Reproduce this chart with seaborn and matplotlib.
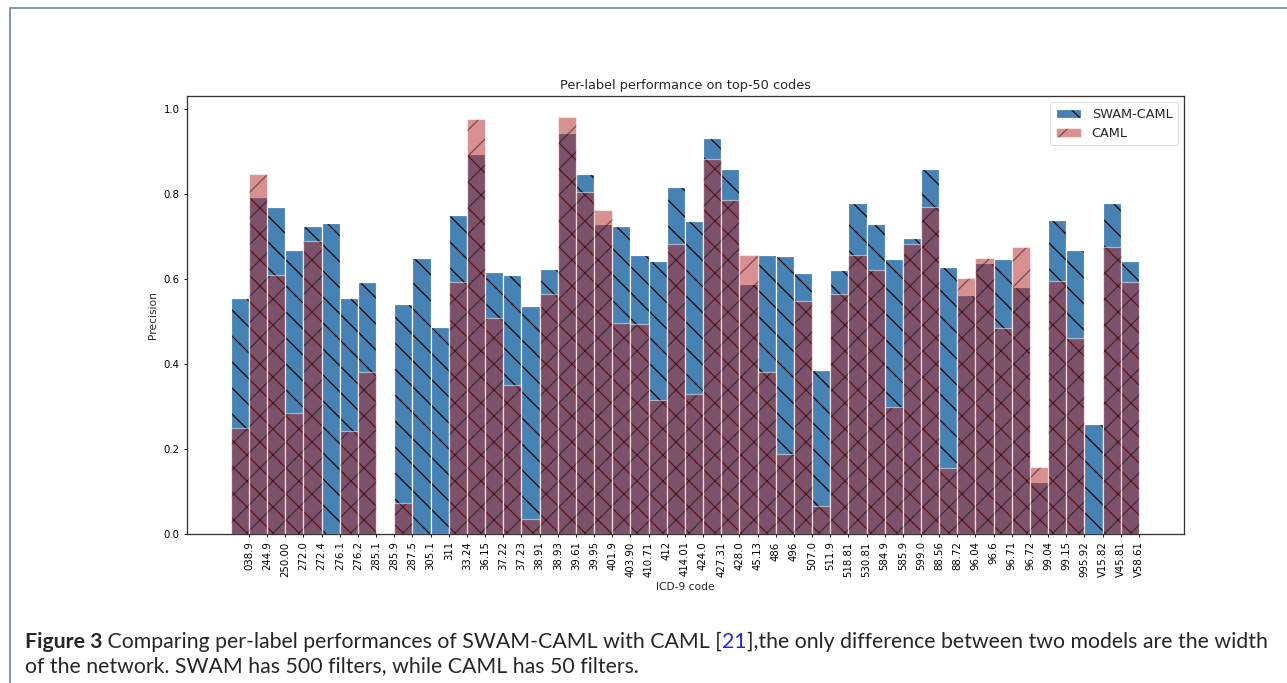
import matplotlib
matplotlib.use('Agg')
import matplotlib.pyplot as plt
import numpy as np
import pandas as pd
import seaborn as sns
from matplotlib.patches import Rectangle

# ICD-9 codes (x axis) and per-label precision of both models
codes = ['038.9', '244.9', '250.00', '272.0', '272.4', '276.1', '276.2', '285.1', '285.9', '287.5',
         '305.1', '311', '33.24', '36.15', '37.22', '37.23', '38.91', '38.93', '39.61', '39.95',
         '401.9', '403.90', '410.71', '412', '414.01', '424.0', '427.31', '428.0', '45.13', '486',
         '496', '507.0', '511.9', '518.81', '530.81', '584.9', '585.9', '599.0', '88.56', '88.72',
         '96.04', '96.6', '96.71', '96.72', '99.04', '99.15', '995.92', 'V15.82', 'V45.81', 'V58.61']
swam_caml = [0.554, 0.793, 0.768, 0.667, 0.725, 0.732, 0.556, 0.592, 0.0, 0.540,
             0.650, 0.486, 0.749, 0.894, 0.615, 0.608, 0.535, 0.624, 0.944, 0.847,
             0.730, 0.725, 0.655, 0.641, 0.815, 0.735, 0.932, 0.859, 0.589, 0.655,
             0.653, 0.613, 0.385, 0.620, 0.779, 0.728, 0.646, 0.697, 0.859, 0.627,
             0.563, 0.638, 0.646, 0.582, 0.122, 0.739, 0.669, 0.258, 0.779, 0.641]
caml = [0.250, 0.847, 0.608, 0.284, 0.690, 0.0, 0.242, 0.380, 0.0, 0.073,
        0.0, 0.0, 0.592, 0.977, 0.509, 0.350, 0.035, 0.565, 0.981, 0.805,
        0.763, 0.497, 0.495, 0.315, 0.681, 0.329, 0.883, 0.786, 0.655, 0.380,
        0.188, 0.549, 0.066, 0.565, 0.657, 0.620, 0.298, 0.681, 0.770, 0.155,
        0.601, 0.648, 0.484, 0.674, 0.157, 0.594, 0.460, 0.0, 0.676, 0.592]
series_names = ['SWAM-CAML', 'CAML']

W, H, DPI = 1287, 683, 156

sns.set_style('ticks')
plt.rcParams['font.family'] = ['DejaVu Sans']
plt.rcParams['hatch.linewidth'] = 0.55

fig = plt.figure(figsize=(W / DPI, H / DPI), dpi=DPI)
ax = fig.add_axes([187 / W, 1 - 534 / H, (1184 - 187) / W, (534 - 96) / H])

df = pd.DataFrame({'code': codes, series_names[0]: swam_caml, series_names[1]: caml})

sns.barplot(data=df, x='code', y=series_names[0], color='steelblue', saturation=1,
            width=1, errorbar=None, edgecolor='white', linewidth=0.55, hatch='\\\\', ax=ax)
sns.barplot(data=df, x='code', y=series_names[1], color='firebrick', saturation=1,
            width=1, errorbar=None, alpha=0.5, edgecolor='white', linewidth=0.55,
            hatch='//', ax=ax)

# black hatching while keeping white bar edges
for p in ax.containers[0]:
    p._hatch_color = (0, 0, 0, 1)
for p in ax.containers[1]:
    p._hatch_color = (0, 0, 0, 0.5)

ax.set_xticks(np.arange(len(codes)) + 0.5, labels=codes, rotation=90)
ax.set_xlim(-2.91, 51.98)
ax.set_ylim(0, 1.03)
ax.set_yticks([0.0, 0.2, 0.4, 0.6, 0.8, 1.0])
ax.tick_params(labelsize=4.7, length=1.6, width=0.4, pad=1.8, colors='black')
for s in ax.spines.values():
    s.set_linewidth(0.6)
    s.set_color('#333333')

ax.set_title('Per-label performance on top-50 codes', fontsize=5.95, pad=3)
ax.set_xlabel('ICD-9 code', fontsize=4.9, labelpad=2)
ax.set_ylabel('Precision', fontsize=4.9, labelpad=2.5)

leg = ax.legend([ax.containers[0], ax.containers[1]], series_names, loc='upper right',
                fontsize=5.95, frameon=True)
leg.get_frame().set_linewidth(0.4)

# page frame around the figure
fig.add_artist(Rectangle((10 / W, -0.1), 2, 1.1 - 8 / H, transform=fig.transFigure,
                         fill=False, edgecolor='#5b7ba3', linewidth=0.7, clip_on=False))

# caption, fitted to the width of the reference line
line1 = [('Figure 3', {'fontweight': 'bold'}),
         (' Comparing per-label performances of SWAM-CAML with CAML [', {}),
         ('21', {'color': '#2424e6'}),
         ('],the only difference between two models are the width', {})]
line2 = [('of the network. SWAM has 500 filters, while CAML has 50 filters.', {})]

renderer = fig.canvas.get_renderer()
cap_font = ['Lato', 'DejaVu Sans']
probe = fig.text(0, 0, ''.join(s for s, _ in line1), fontsize=10, family=cap_font)
w10 = probe.get_window_extent(renderer=renderer).width
probe.remove()
cap_size = 10 * (1254 / w10) * 0.985


def caption_line(parts, x, y):
    for s, kw in parts:
        t = fig.text(x / W, 1 - y / H, s, fontsize=cap_size, family=cap_font,
                     va='baseline', ha='left', **kw)
        x += t.get_window_extent(renderer=renderer).width


caption_line(line1, 25, 648)
caption_line(line2, 25, 672)

fig.savefig('out.png', dpi=DPI)
